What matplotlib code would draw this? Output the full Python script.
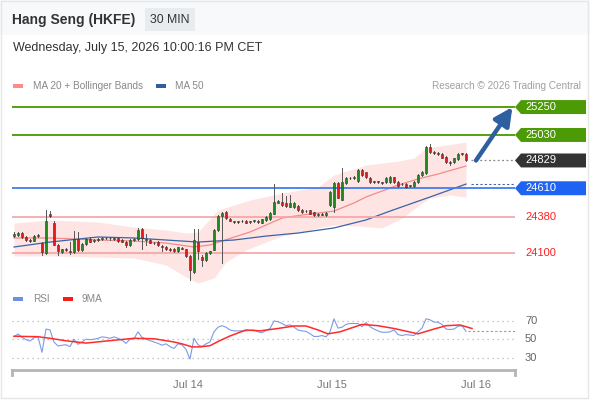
import matplotlib
matplotlib.use("Agg")
import matplotlib.pyplot as plt
from matplotlib.patches import Rectangle, Polygon
from matplotlib.transforms import blended_transform_factory
import numpy as np

plt.rcParams['font.family'] = ['Liberation Sans', 'DejaVu Sans']

TITLE = "Hang Seng (HKFE)"
PERIOD = "30 MIN"
STAMP = "Wednesday, July 15, 2026 10:00:16 PM CET"

#### candles (30 min bars) ####
opens = [24235, 24240, 24255, 24225, 24205, 24198, 24232, 24180, 24100, 24410,
         24340, 24165, 24108, 24130, 24112, 24105, 24210, 24125, 24172, 24210,
         24195, 24205, 24210, 24215, 24218, 24212, 24215, 24205, 24190, 24160,
         24200, 24212, 24290, 24205, 24200, 24178, 24185, 24152, 24150, 24135,
         24130, 24115, 24138, 24128, 24075, 23950, 24190, 24072, 24042, 24100,
         24125, 24280, 24392, 24420, 24370, 24342, 24345, 24348, 24355, 24345,
         24350, 24355, 24340, 24358, 24368, 24410, 24495, 24505, 24490, 24465,
         24462, 24468, 24440, 24428, 24435, 24420, 24402, 24402, 24400, 24478,
         24462, 24650, 24520, 24650, 24688, 24690, 24665, 24755, 24735, 24690,
         24658, 24660, 24652, 24658, 24660, 24695, 24660, 24640, 24645, 24628,
         24625, 24660, 24715, 24730, 24935, 24890, 24880, 24880, 24855, 24815,
         24815, 24840, 24880, 24880]
highs = [24265, 24262, 24262, 24232, 24212, 24238, 24248, 24188, 24440, 24430,
         24350, 24172, 24135, 24138, 24190, 24270, 24268, 24178, 24215, 24222,
         24212, 24218, 24222, 24225, 24228, 24222, 24222, 24212, 24198, 24210,
         24218, 24300, 24298, 24250, 24208, 24190, 24192, 24160, 24158, 24142,
         24138, 24150, 24148, 24135, 24085, 24285, 24285, 24080, 24105, 24118,
         24285, 24400, 24425, 24428, 24378, 24350, 24355, 24358, 24362, 24355,
         24358, 24362, 24370, 24392, 24420, 24645, 24520, 24572, 24550, 24555,
         24500, 24475, 24448, 24440, 24440, 24425, 24412, 24412, 24420, 24590,
         24660, 24660, 24770, 24700, 24700, 24708, 24758, 24762, 24742, 24698,
         24668, 24668, 24662, 24695, 24705, 24702, 24668, 24650, 24650, 24638,
         24665, 24720, 24745, 24940, 24960, 24905, 24892, 24888, 24862, 24825,
         24850, 24885, 24888, 24890]
lows = [24225, 24232, 24218, 24198, 24188, 24192, 24226, 24080, 24095, 24385,
        24160, 24080, 24100, 24118, 24095, 24100, 24118, 24118, 24165, 24185,
        24188, 24198, 24200, 24208, 24205, 24205, 24190, 24185, 24150, 24155,
        24195, 24205, 24130, 24160, 24175, 24168, 24155, 24118, 24125, 24115,
        24110, 24110, 24128, 24070, 23887, 23945, 24050, 24000, 24035, 24095,
        24120, 24275, 24020, 24365, 24350, 24335, 24338, 24342, 24335, 24340,
        24342, 24340, 24335, 24352, 24362, 24405, 24490, 24472, 24462, 24460,
        24455, 24430, 24415, 24422, 24405, 24395, 24395, 24396, 24395, 24470,
        24420, 24530, 24515, 24645, 24680, 24685, 24660, 24710, 24690, 24655,
        24650, 24652, 24640, 24652, 24655, 24655, 24620, 24632, 24615, 24620,
        24620, 24655, 24710, 24725, 24890, 24878, 24872, 24845, 24810, 24790,
        24808, 24835, 24870, 24825]
closes = [24250, 24255, 24225, 24205, 24195, 24230, 24240, 24110, 24350, 24390,
          24165, 24115, 24130, 24125, 24110, 24210, 24125, 24170, 24210, 24190,
          24202, 24210, 24215, 24218, 24215, 24216, 24195, 24190, 24160, 24205,
          24212, 24282, 24215, 24210, 24180, 24175, 24160, 24150, 24130, 24120,
          24115, 24145, 24135, 24075, 23968, 24200, 24115, 24042, 24100, 24112,
          24280, 24392, 24415, 24372, 24355, 24345, 24348, 24352, 24340, 24350,
          24352, 24345, 24365, 24385, 24415, 24500, 24512, 24480, 24468, 24495,
          24495, 24435, 24420, 24432, 24410, 24400, 24405, 24406, 24415, 24580,
          24650, 24535, 24660, 24690, 24692, 24700, 24752, 24715, 24695, 24660,
          24662, 24658, 24650, 24690, 24700, 24660, 24625, 24642, 24620, 24632,
          24660, 24715, 24740, 24935, 24895, 24888, 24878, 24850, 24815, 24812,
          24845, 24880, 24878, 24829]

#### overlays (bar index, price) ####
ma20_idx = [0, 9, 21, 30, 38, 45, 49, 52, 59, 67, 72, 80, 85, 88, 92, 96, 101, 106, 113]
ma20_val = [24218, 24218, 24202, 24194, 24178, 24147, 24163, 24194, 24265, 24375,
            24399, 24430, 24494, 24541, 24588, 24635, 24683, 24722, 24785]
bb_up_idx = [0, 9, 21, 30, 38, 43, 46, 51, 59, 67, 76, 80, 84, 88, 92, 96, 100, 103, 108, 113]
bb_up_val = [24336, 24360, 24344, 24304, 24281, 24257, 24265, 24438, 24517, 24572,
             24620, 24714, 24754, 24793, 24809, 24824, 24848, 24927, 24951, 24974]
bb_lo_idx = [0, 9, 21, 30, 38, 43, 46, 50, 53, 58, 63, 67, 72, 76, 80, 86, 92, 97, 101, 104, 109, 113]
bb_lo_val = [24076, 24076, 24068, 24060, 24005, 23910, 23863, 23902, 24029, 24123,
             24186, 24233, 24265, 24297, 24320, 24312, 24297, 24375, 24470, 24533,
             24557, 24541]
ma50_idx = [0, 9, 21, 30, 38, 46, 55, 63, 71, 80, 88, 94, 104, 113]
ma50_val = [24147, 24186, 24226, 24218, 24202, 24186, 24202, 24233, 24257, 24297,
            24360, 24430, 24541, 24643]

#### levels ####
resist = [25250, 25030]
pivot = 24610
support = [24380, 24100]
last_price = 24829
target = 25250

#### RSI ####
rsi = [52.7, 55.6, 52, 49.5, 48, 51.6, 52.7, 35.8, 61, 60,
       47, 42.6, 43.5, 44, 42, 50, 44.5, 47, 50, 49.5,
       50, 51, 52.5, 52, 51, 52.5, 51, 49, 45.5, 50,
       50.5, 58, 52, 50, 48.5, 47, 45.5, 43.5, 45, 42,
       40, 45, 44, 39, 28.6, 51, 44, 42, 45, 47,
       58, 63, 64.6, 63, 60, 59, 59, 59, 59, 59.5,
       60, 58, 57, 59.5, 61.6, 69.7, 69, 67, 64.6, 65.5,
       63, 60, 59, 58.5, 56, 53, 53, 54, 52.5, 58,
       72, 62, 63, 66, 67, 67, 67, 63.5, 68, 63.5,
       61, 59, 57.5, 57.5, 58, 60, 55, 54, 55, 54.5,
       54, 58, 62, 72, 71, 68.5, 68.5, 66, 61, 60.5,
       61, 64, 64.5, 58.5]
ma9_idx = [0, 6, 9, 13, 18, 23, 30, 35, 40, 42, 44.5, 46.5, 49, 51, 54, 58, 61.5,
           66, 70, 73, 76, 78.5, 81.5, 87, 91, 95, 101, 105, 108, 111.5, 114.5]
ma9_val = [53.2, 52.7, 51, 48.3, 45.8, 48, 51, 50.5, 47, 45, 41.7, 41.7, 43, 47.5,
           53.5, 60, 59, 61.6, 64.3, 64.3, 60, 55.8, 58, 66, 64.6, 61.6, 55.8, 61,
           64.6, 65.4, 61.6]
rsi_levels = [70, 50, 30]

day_pos = [43.5, 79.5, 115.5]
day_lbl = ["Jul 14", "Jul 15", "Jul 16"]

W, H = 590, 400
def fx(px):
    return px / W
def fy(py):
    return 1 - py / H

fig = plt.figure(figsize=(W / 100, H / 100), dpi=100)
fig.patch.set_facecolor("white")

# header strip + frame
fig.patches.append(Rectangle((0, fy(35)), 1, 35 / H, transform=fig.transFigure,
                             facecolor="#f8f9fa", edgecolor="none", zorder=0))
fig.patches.append(Rectangle((fx(1), fy(398)), fx(587), 397 / H, transform=fig.transFigure,
                             facecolor="none", edgecolor="#e6e6e6", lw=1, zorder=0))
fig.patches.append(Rectangle((fx(145), fy(31)), 50 / W, 23 / H, transform=fig.transFigure,
                             facecolor="#e9ecef", edgecolor="none", zorder=1))
fig.text(fx(12), fy(20), TITLE, fontsize=10, weight="bold", color="#333333", va="center")
fig.text(fx(170), fy(20), PERIOD, fontsize=8.8, color="#333333", va="center", ha="center")
fig.text(fx(13), fy(48), STAMP, fontsize=9, color="#333333", va="center")

# legends
fig.patches.append(Rectangle((fx(13), fy(88)), 10 / W, 4 / H, transform=fig.transFigure,
                             facecolor="#ff8a8a", edgecolor="none"))
fig.text(fx(33), fy(86), "MA 20 + Bollinger Bands", fontsize=7.2, color="#888888", va="center")
fig.patches.append(Rectangle((fx(156), fy(88)), 10 / W, 4 / H, transform=fig.transFigure,
                             facecolor="#2f5f9e", edgecolor="none"))
fig.text(fx(175), fy(86), "MA 50", fontsize=7.2, color="#888888", va="center")
fig.text(fx(581), fy(86), "Research \u00a9 2026 Trading Central", fontsize=7.2,
         color="#a0a0a0", va="center", ha="right")

fig.patches.append(Rectangle((fx(13), fy(301)), 10 / W, 4 / H, transform=fig.transFigure,
                             facecolor="#6f8fe0", edgecolor="none"))
fig.text(fx(33), fy(299), "RSI", fontsize=7.2, color="#888888", va="center")
fig.patches.append(Rectangle((fx(63), fy(301)), 10 / W, 4 / H, transform=fig.transFigure,
                             facecolor="#ff1a1a", edgecolor="none"))
fig.text(fx(82), fy(299), "9MA", fontsize=7.2, color="#888888", va="center")

#### main price panel ####
ax = fig.add_axes([fx(12), fy(290), (515 - 12) / W, (290 - 95) / H])
ax.set_xlim(-0.5, 125.25)
ax.set_ylim(23808, 25345)
ax.axis("off")

n = len(closes)
xs = np.arange(n)

# bollinger band fill
bx = np.union1d(bb_up_idx, bb_lo_idx)
up = np.interp(bx, bb_up_idx, bb_up_val)
lo = np.interp(bx, bb_lo_idx, bb_lo_val)
ax.fill_between(bx, lo, up, color="#ffdcdc", alpha=0.75, lw=0, zorder=1)
ax.plot(ma20_idx, ma20_val, color="#f58a8a", lw=0.9, zorder=2)
ax.plot(ma50_idx, ma50_val, color="#3a64a8", lw=0.9, zorder=2)

# level lines
for lv in resist:
    ax.axhline(lv, color="#55a012", lw=1.4, zorder=2)
ax.axhline(pivot, color="#3f7ff0", lw=1.3, zorder=2)
for lv in support:
    ax.axhline(lv, color="#f4a3a3", lw=1.2, zorder=2)

# candles
for i in range(n):
    o, h, l, c = opens[i], highs[i], lows[i], closes[i]
    col = "#1f8a1f" if c >= o else "#e01b1b"
    ax.plot([i, i], [l, h], color="#555555", lw=0.7, zorder=3)
    body = max(abs(c - o), 6)
    ax.add_patch(Rectangle((i - 0.36, min(o, c)), 0.72, body, facecolor=col,
                           edgecolor="#333333", lw=0.4, zorder=4))

# extensions of last values
ax.plot([n + 0.2, 125.25], [last_price, last_price], color="#888888", lw=0.9,
        ls=(0, (1.5, 2)), zorder=2)
ax.plot([n + 0.2, 125.25], [ma50_val[-1], ma50_val[-1]], color="#3a64a8", lw=0.8,
        ls=(0, (2, 2)), zorder=2)

# target arrow
ax.annotate("", xy=(124.6, target), xytext=(n + 1.5, last_price),
            arrowprops=dict(arrowstyle="-|>,head_length=0.9,head_width=0.45",
                            color="#2e5f9f", lw=3.2, mutation_scale=12,
                            shrinkA=0, shrinkB=0), zorder=6)

# right tags
tr = blended_transform_factory(fig.transFigure, ax.transData)
hh = 55
def tag(val, color):
    pts = [(fx(515), val), (fx(521), val + hh), (fx(586), val + hh),
           (fx(586), val - hh), (fx(521), val - hh)]
    ax.add_patch(Polygon(pts, closed=True, transform=tr, facecolor=color,
                         edgecolor="none", clip_on=False, zorder=5))
    ax.text(fx(525), val, str(val), transform=tr, color="white", fontsize=8,
            va="center", ha="left", clip_on=False, zorder=6)

for lv in resist:
    tag(lv, "#4c9a06")
tag(last_price, "#333333")
tag(pivot, "#1f63f2")
for lv in support:
    ax.text(fx(525), lv, str(lv), transform=tr, color="#ff1f1f", fontsize=8,
            va="center", ha="left", clip_on=False)

#### RSI panel ####
rx = fig.add_axes([fx(12), fy(370), (515 - 12) / W, (370 - 305) / H])
rx.set_xlim(-0.5, 125.25)
rx.set_ylim(16.7, 87.0)
for lv in rsi_levels:
    rx.axhline(lv, color="#b5b5b5", lw=0.9, ls=(0, (1, 3)))
    rx.text(fx(525), lv, str(lv), transform=blended_transform_factory(fig.transFigure, rx.transData),
            fontsize=8, color="#666666", va="center", ha="left")
rx.plot(xs, rsi, color="#7b9be6", lw=0.8, zorder=3)
rx.plot(ma9_idx, ma9_val, color="#ff2b2b", lw=1.1, zorder=4)
rx.plot([n - 0.5, 125.25], [rsi[-1], rsi[-1]], color="#7b9be6", lw=0.8,
        ls=(0, (2, 2)), zorder=3)

for s in ["top", "left", "right"]:
    rx.spines[s].set_visible(False)
rx.spines["bottom"].set_color("#b5b5b5")
rx.spines["bottom"].set_linewidth(2)
rx.set_yticks([])
rx.set_xticks(day_pos)
rx.set_xticklabels(day_lbl, fontsize=8, color="#777777")
rx.tick_params(axis="x", length=0, pad=7)
for xe in [-0.5, 125.25]:
    rx.plot([xe, xe], [0, -0.07], color="#b5b5b5", lw=2,
            transform=blended_transform_factory(rx.transData, rx.transAxes), clip_on=False)

fig.savefig("out.png", dpi=100)
